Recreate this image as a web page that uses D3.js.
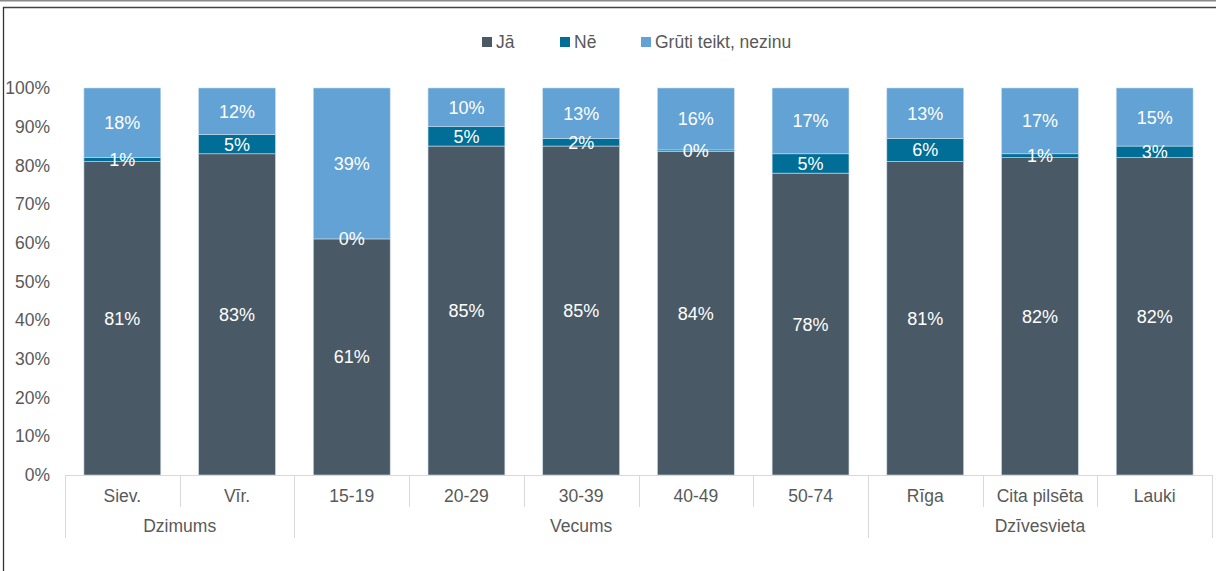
<!DOCTYPE html>
<html>
<head>
<meta charset="utf-8">
<script src="https://cdn.jsdelivr.net/npm/d3@7"></script>
<style>
  html, body { margin: 0; padding: 0; background: #fff; }
  svg { display: block; font-family: "Liberation Sans", Arial, sans-serif; }
</style>
</head>
<body>
<svg id="chart" width="1216" height="571"></svg>
<script>
const categories = ["Siev.", "Vīr.", "15-19", "20-29", "30-39", "40-49", "50-74", "Rīga", "Cita pilsēta", "Lauki"];
const groups = [
  { name: "Dzimums", from: 0, to: 1 },
  { name: "Vecums", from: 2, to: 6 },
  { name: "Dzīvesvieta", from: 7, to: 9 }
];
const seriesNames = ["Jā", "Nē", "Grūti teikt, nezinu"];
const jaValues    = [81, 83, 61, 85, 85, 83.6, 78, 81, 82, 82];
const neValues    = [1, 5, 0, 5, 2, 0.4, 5, 6, 1, 3];
const grutiValues = [18, 12, 39, 10, 13, 16, 17, 13, 17, 15];
const yTicks = [0, 10, 20, 30, 40, 50, 60, 70, 80, 90, 100];
const colors = ["#4a5966", "#006e96", "#62a2d4"];

const svg = d3.select("#chart");
const W = 1216, H = 571;
const m = { left: 65, right: 4, top: 88, bottom: 96 };
const FS = 17.5;

// frame
svg.append("line").attr("x1", 0).attr("x2", W).attr("y1", 0.5).attr("y2", 0.5).attr("stroke", "#8a8a8a").attr("stroke-width", 2);
svg.append("line").attr("x1", 3).attr("x2", W).attr("y1", 7.5).attr("y2", 7.5).attr("stroke", "#444").attr("stroke-width", 1.3);
svg.append("line").attr("x1", 3.5).attr("x2", 3.5).attr("y1", 7).attr("y2", H).attr("stroke", "#333").attr("stroke-width", 1.3);

const x = d3.scaleBand().domain(categories).range([m.left, W - m.right]).paddingInner(0.33).paddingOuter(0.165);
const y = d3.scaleLinear().domain([0, 100]).range([H - m.bottom, m.top]);

const data = categories.map((c, i) => ({ cat: c, "Jā": jaValues[i], "Nē": neValues[i], "Grūti teikt, nezinu": grutiValues[i] }));
const stack = d3.stack().keys(seriesNames)(data);

// y axis labels
const yAxis = d3.axisLeft(y).tickValues(yTicks).tickFormat(d => d + "%").tickSize(0).tickPadding(15);
const yg = svg.append("g").attr("transform", `translate(${m.left},0)`).call(yAxis);
yg.select(".domain").remove();
yg.selectAll("text").attr("font-size", FS).attr("fill", "#595959").attr("font-family", "Liberation Sans, Arial, sans-serif");

// bars
const layers = svg.append("g").selectAll("g").data(stack).join("g").attr("fill", (d, i) => colors[i]);
layers.selectAll("rect").data(d => d).join("rect")
  .attr("x", d => x(d.data.cat))
  .attr("width", x.bandwidth())
  .attr("y", d => y(d[1]))
  .attr("height", d => Math.max(0, y(d[0]) - y(d[1])))
  .attr("stroke", "#c9dcea")
  .attr("stroke-width", 0.6);

// value labels
stack.forEach((s, si) => {
  svg.append("g").selectAll("text").data(s).join("text")
    .attr("x", d => x(d.data.cat) + x.bandwidth() / 2)
    .attr("y", d => (y(d[0]) + y(d[1])) / 2)
    .attr("dy", "0.36em")
    .attr("text-anchor", "middle")
    .attr("font-size", 18)
    .attr("fill", "#ffffff")
    .text(d => Math.round(d[1] - d[0]) + "%");
});

// x axis baseline
const step = x.step();
const x0 = m.left;
const xEnd = x0 + step * categories.length;
const base = y(0);
svg.append("line").attr("x1", x0).attr("x2", xEnd).attr("y1", base + 0.5).attr("y2", base + 0.5).attr("stroke", "#d9d9d9");

// category separators
const groupEdges = new Set();
groups.forEach(g => { groupEdges.add(g.from); groupEdges.add(g.to + 1); });
for (let i = 0; i <= categories.length; i++) {
  const xx = Math.round(x0 + step * i) + 0.5;
  svg.append("line").attr("x1", xx).attr("x2", xx).attr("y1", base).attr("y2", groupEdges.has(i) ? base + 63 : base + 32)
    .attr("stroke", "#d9d9d9");
}

// category labels
svg.append("g").selectAll("text").data(categories).join("text")
  .attr("x", d => x(d) + x.bandwidth() / 2)
  .attr("y", base + 21)
  .attr("dy", "0.36em")
  .attr("text-anchor", "middle")
  .attr("font-size", FS).attr("fill", "#595959")
  .text(d => d);

// group labels
svg.append("g").selectAll("text").data(groups).join("text")
  .attr("x", g => x0 + step * (g.from + g.to + 1) / 2)
  .attr("y", base + 51)
  .attr("dy", "0.36em")
  .attr("text-anchor", "middle")
  .attr("font-size", FS).attr("fill", "#595959")
  .text(g => g.name);

// legend
const legendX = [482, 560, 641];
const lg = svg.append("g").selectAll("g").data(seriesNames).join("g")
  .attr("transform", (d, i) => `translate(${legendX[i]},37)`);
lg.append("rect").attr("width", 10).attr("height", 10).attr("fill", (d, i) => colors[i]);
lg.append("text").attr("x", 14).attr("y", 5).attr("dy", "0.36em")
  .attr("font-size", FS).attr("fill", "#595959").text(d => d);
</script>
</body>
</html>
